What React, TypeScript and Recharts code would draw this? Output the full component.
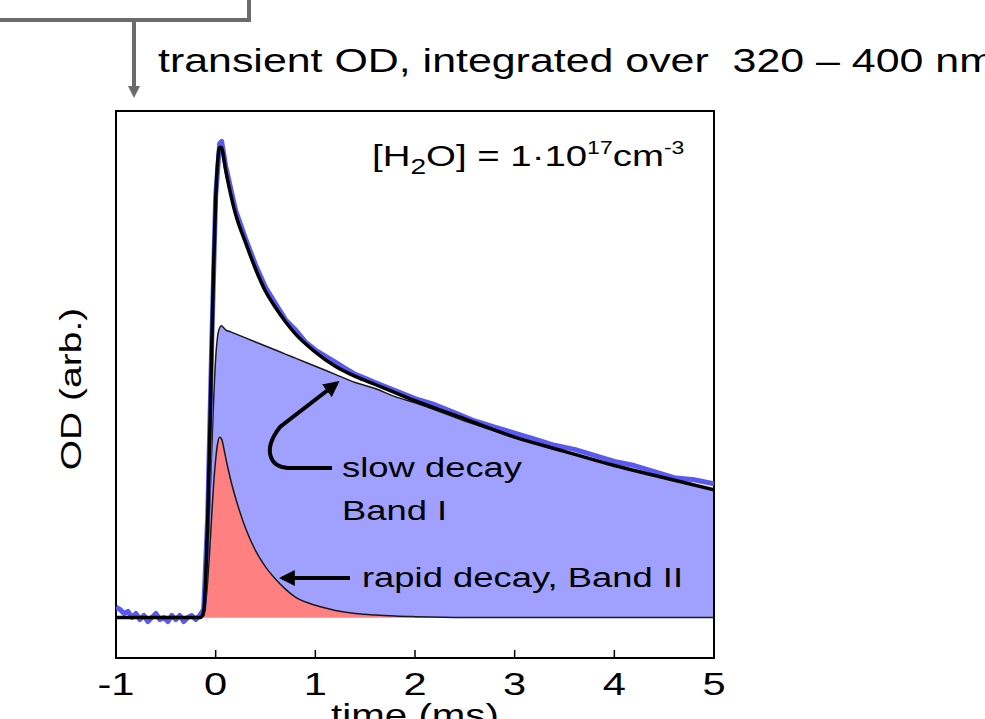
import React from "react";
import {
  ComposedChart,
  Area,
  Line,
  XAxis,
  YAxis,
  ReferenceArea,
} from "recharts";

// fit grid (ms) and the fitted components
const fitTime = [
  -1, -0.5, -0.15, -0.12, -0.1, -0.08, -0.06, -0.04, -0.02, 0, 0.02, 0.04,
  0.06, 0.08, 0.1, 0.15, 0.2, 0.3, 0.4, 0.5, 0.6, 0.7, 0.8, 1.0, 1.2, 1.4,
  1.6, 1.8, 2.0, 2.5, 3.0, 3.5, 4.0, 4.5, 5.0,
];
const slowFit = [
  0, 0, 0, 0.02, 0.12, 0.3, 0.55, 0.82, 1.08, 1.28, 1.39, 1.43, 1.44, 1.43,
  1.42, 1.41, 1.4, 1.38, 1.36, 1.34, 1.32, 1.3, 1.28, 1.24, 1.2, 1.16, 1.13,
  1.09, 1.06, 0.97, 0.89, 0.82, 0.75, 0.69, 0.63,
];
const rapidFit = [
  0, 0, 0, 0.01, 0.07, 0.18, 0.33, 0.5, 0.66, 0.78, 0.86, 0.89, 0.88, 0.84,
  0.79, 0.68, 0.59, 0.44, 0.33, 0.25, 0.19, 0.14, 0.1, 0.06, 0.035, 0.02,
  0.012, 0.007, 0.004, 0, 0, 0, 0, 0, 0,
];
const totalFit = [
  0, 0, 0, 0.03, 0.19, 0.48, 0.88, 1.32, 1.74, 2.06, 2.25, 2.32, 2.32, 2.27,
  2.21, 2.09, 1.99, 1.85, 1.72, 1.61, 1.53, 1.46, 1.4, 1.31, 1.24, 1.19, 1.15,
  1.11, 1.07, 0.98, 0.89, 0.82, 0.75, 0.69, 0.63,
];

// measured trace
const measTime = [
  -1, -0.96, -0.92, -0.88, -0.84, -0.8, -0.76, -0.72, -0.68, -0.64, -0.6,
  -0.56, -0.52, -0.48, -0.44, -0.4, -0.36, -0.32, -0.28, -0.24, -0.2, -0.16,
  -0.12, -0.08, -0.04, 0, 0.04, 0.06, 0.1, 0.2, 0.3, 0.4, 0.5, 0.6, 0.7, 0.8,
  0.9, 1.0, 1.1, 1.2, 1.3, 1.4, 1.5, 1.6, 1.7, 1.8, 1.9, 2.0, 2.2, 2.4, 2.6,
  2.8, 3.0, 3.2, 3.4, 3.6, 3.8, 4.0, 4.2, 4.4, 4.6, 4.8, 5.0,
];
const measOD = [
  0.05, 0.04, 0.02, 0.03, 0.0, 0.02, -0.01, 0.01, -0.02, 0.0, 0.02, -0.01,
  0.0, -0.02, 0.01, -0.01, 0.01, -0.02, 0.0, 0.01, -0.01, 0.01, 0.04, 0.5,
  1.34, 2.08, 2.34, 2.35, 2.23, 2.01, 1.87, 1.74, 1.63, 1.55, 1.47, 1.42,
  1.36, 1.32, 1.29, 1.26, 1.23, 1.2, 1.18, 1.16, 1.14, 1.12, 1.1, 1.08, 1.05,
  1.01, 0.97, 0.94, 0.91, 0.88, 0.85, 0.83, 0.8, 0.77, 0.75, 0.72, 0.69, 0.68,
  0.66,
];

const xTicks = [-1, 0, 1, 2, 3, 4, 5];
const yTicks = [1, 2];

const fitData = fitTime.map((t, i) => ({
  t,
  slow: slowFit[i],
  rapid: rapidFit[i],
  total: totalFit[i],
}));
const measData = measTime.map((t, i) => ({ t, od: measOD[i] }));

const font = '"Liberation Sans", Arial, sans-serif';
const SX = 1.3; // text in the figure is stretched along its run

function XTick(props: any) {
  const { x, y, payload } = props;
  return (
    <text
      transform={`translate(${x},${y}) scale(${SX},1)`}
      textAnchor="middle"
      dy="0.71em"
      fontSize={32}
      fontFamily={font}
      fill="#000"
    >
      {payload.value}
    </text>
  );
}

function Overlay() {
  return (
    <svg
      width={985}
      height={719}
      style={{ position: "absolute", left: 0, top: 0, pointerEvents: "none" }}
    >
      <defs>
        <marker
          id="blk"
          viewBox="0 0 10 10"
          refX="8"
          refY="5"
          markerWidth="4"
          markerHeight="4"
          orient="auto"
        >
          <path d="M0,0 L10,5 L0,10 z" fill="#000" />
        </marker>
      </defs>
      {/* header bracket */}
      <path d="M0,20 H249 V0" fill="none" stroke="#6b6b6b" strokeWidth={4} />
      <line x1={134} y1={20} x2={134} y2={88} stroke="#6b6b6b" strokeWidth={4} />
      <path d="M128,86 L140,86 L134,98 z" fill="#6b6b6b" />
      <text
        transform={`translate(158,72) scale(${SX},1)`}
        fontSize={33}
        fontFamily={font}
        style={{ whiteSpace: "pre" }}
      >
        transient OD, integrated over  320 – 400 nm
      </text>

      {/* concentration label */}
      <text
        transform={`translate(372,166) scale(1.28,1)`}
        fontSize={30}
        fontFamily={font}
      >
        <tspan>[H</tspan>
        <tspan fontSize={22} dy={8}>
          2
        </tspan>
        <tspan dy={-8}>O] = 1·10</tspan>
        <tspan fontSize={18} dy={-12}>
          17
        </tspan>
        <tspan dy={12}>cm</tspan>
        <tspan fontSize={18} dy={-12}>
          -3
        </tspan>
      </text>

      {/* axis titles */}
      <text
        transform={`translate(71,389) rotate(-90) scale(${SX},1)`}
        textAnchor="middle"
        dominantBaseline="central"
        fontSize={30}
        fontFamily={font}
      >
        OD (arb.)
      </text>
      <text
        transform={`translate(415,726) scale(${SX},1)`}
        textAnchor="middle"
        fontSize={31}
        fontFamily={font}
      >
        time (ms)
      </text>

      {/* annotations */}
      <path
        d="M332,468 L288,468 C270,467 262,450 280,427 L337,383"
        fill="none"
        stroke="#000"
        strokeWidth={4}
        markerEnd="url(#blk)"
      />
      <text transform={`translate(342,477) scale(${SX},1)`} fontSize={28} fontFamily={font}>
        slow decay
      </text>
      <text transform={`translate(342,520) scale(${SX},1)`} fontSize={28} fontFamily={font}>
        Band I
      </text>
      <line
        x1={350}
        y1={578}
        x2={282}
        y2={578}
        stroke="#000"
        strokeWidth={4}
        markerEnd="url(#blk)"
      />
      <text transform={`translate(362,587) scale(${SX},1)`} fontSize={28} fontFamily={font}>
        rapid decay, Band II
      </text>
    </svg>
  );
}

export default function App() {
  return (
    <div
      style={{
        position: "absolute",
        left: 0,
        top: 0,
        width: 985,
        height: 719,
        overflow: "hidden",
        background: "#fff",
      }}
    >
      <ComposedChart
        width={985}
        height={719}
        data={fitData}
        margin={{ top: 111, right: 271, bottom: 0, left: 0 }}
      >
        <XAxis
          dataKey="t"
          type="number"
          domain={[-1, 5]}
          ticks={xTicks}
          allowDataOverflow
          height={61}
          axisLine={false}
          tickLine={{ stroke: "#000", strokeWidth: 1.5 }}
          tickSize={-8}
          tickMargin={22}
          tick={<XTick />}
          interval={0}
        />
        <YAxis
          type="number"
          domain={[-0.2, 2.5]}
          ticks={yTicks}
          allowDataOverflow
          width={116}
          axisLine={false}
          tickLine={{ stroke: "#000", strokeWidth: 1.5 }}
          tickSize={-9}
          tick={false}
        />
        <Area
          dataKey="slow"
          type="monotone"
          baseValue={0}
          fill="#a0a0ff"
          fillOpacity={1}
          stroke="#1a1a1a"
          strokeWidth={1.5}
          isAnimationActive={false}
        />
        <Area
          dataKey="rapid"
          type="monotone"
          baseValue={0}
          fill="#ff8080"
          fillOpacity={1}
          stroke="#1a1a1a"
          strokeWidth={1.5}
          isAnimationActive={false}
        />
        <Line
          data={measData}
          dataKey="od"
          type="linear"
          stroke="#5a5af0"
          strokeWidth={5}
          strokeLinejoin="round"
          dot={false}
          isAnimationActive={false}
        />
        <Line
          dataKey="total"
          type="monotone"
          stroke="#000"
          strokeWidth={3.5}
          dot={false}
          isAnimationActive={false}
        />
        <ReferenceArea
          x1={-1}
          x2={5}
          y1={-0.2}
          y2={2.5}
          fill="none"
          fillOpacity={0}
          stroke="#000"
          strokeWidth={2}
          ifOverflow="visible"
        />
      </ComposedChart>
      <Overlay />
    </div>
  );
}
